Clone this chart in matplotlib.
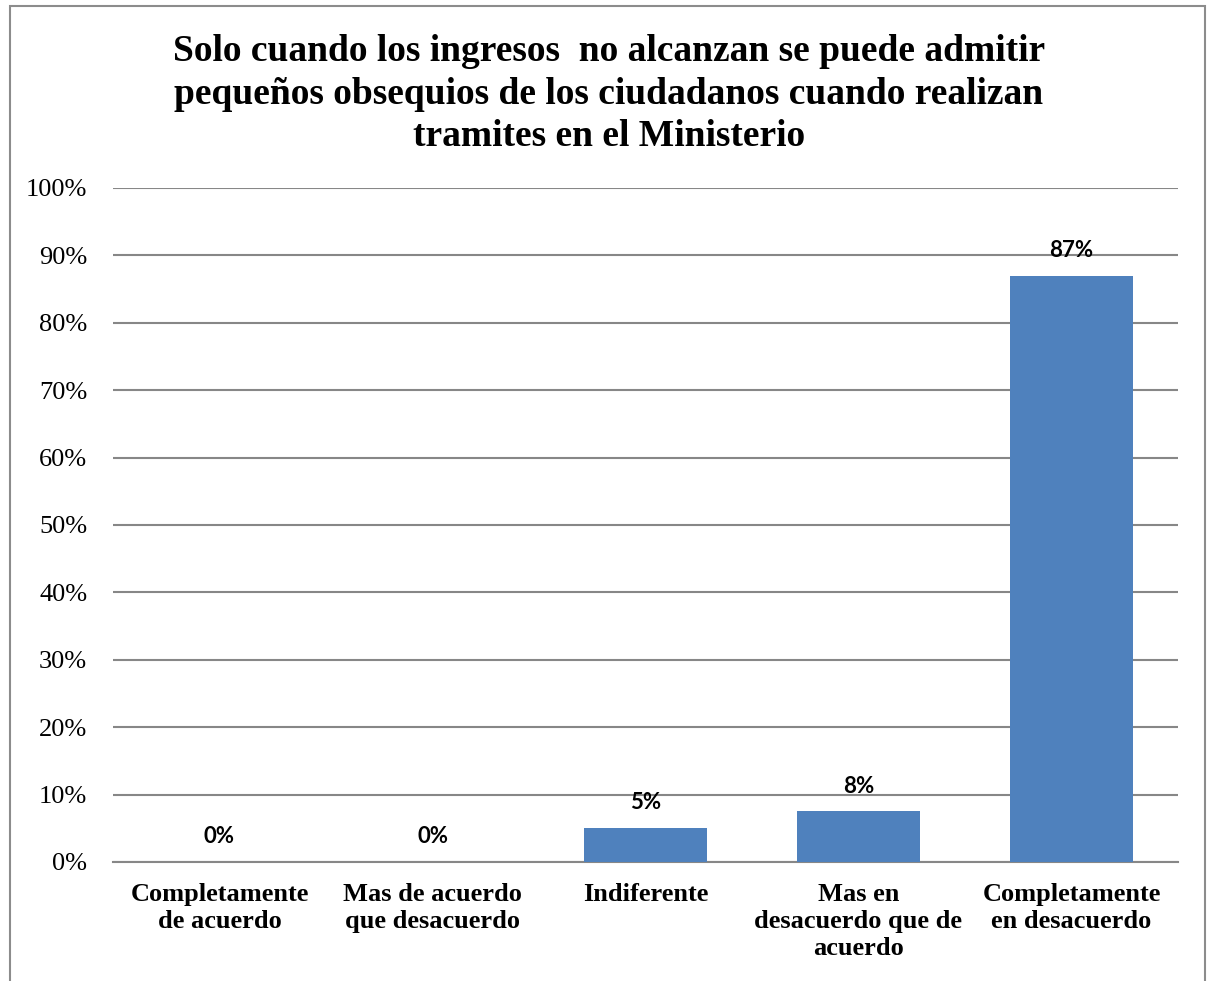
import matplotlib.pyplot as plt
from matplotlib.patches import Rectangle
from matplotlib.ticker import PercentFormatter

categories = [
    'Completamente\nde acuerdo',
    'Mas de acuerdo\nque desacuerdo',
    'Indiferente',
    'Mas en\ndesacuerdo que de\nacuerdo',
    'Completamente\nen desacuerdo',
]
values = [0, 0, 5, 7.5, 87]
labels = ['0%', '0%', '5%', '8%', '87%']

fig = plt.figure(figsize=(12.09, 9.81), dpi=100)
ax = fig.add_axes([113 / 1209, 1 - 862 / 981, (1178 - 113) / 1209, (862 - 188) / 981])

x = range(len(categories))
ax.bar(x, values, width=0.575, color='#4f81bd', zorder=3)

for i, (v, lab) in enumerate(zip(values, labels)):
    ax.text(i, v + 2.2, lab, ha='center', va='bottom', fontsize=16,
            fontweight='bold', family='Lato', zorder=4)

ax.set_xlim(-0.5, len(categories) - 0.5)
ax.set_ylim(0, 100)
ax.set_yticks(range(0, 101, 10))
ax.yaxis.set_major_formatter(PercentFormatter(decimals=0))
ax.grid(axis='y', color='#878787', linewidth=1.5, zorder=0)
for s in ['top', 'right', 'left']:
    ax.spines[s].set_visible(False)
ax.spines['bottom'].set_color('#878787')
ax.spines['bottom'].set_linewidth(1.5)
ax.tick_params(axis='x', length=0, pad=15)
ax.tick_params(axis='y', length=0, pad=18.5)
ax.set_xticks(list(x))
ax.set_xticklabels(categories, fontsize=19, fontweight='bold',
                   family='Liberation Serif', linespacing=1.24, va='top')
for t in ax.get_yticklabels():
    t.set_family('Liberation Serif')
    t.set_fontsize(19)

fig.text(609 / 1209, 1 - 94 / 981,
         'Solo cuando los ingresos  no alcanzan se puede admitir\n'
         'pequeños obsequios de los ciudadanos cuando realizan\n'
         'tramites en el Ministerio',
         ha='center', va='center', fontsize=27, fontweight='bold',
         family='Liberation Serif', linespacing=1.27)

fig.patches.append(Rectangle((10 / 1209, -0.05), (1205 - 10) / 1209, 1.05 - 6 / 981,
                             transform=fig.transFigure, fill=False,
                             edgecolor='#8c8c8c', linewidth=1.5))

fig.savefig('out.png', dpi=100)
